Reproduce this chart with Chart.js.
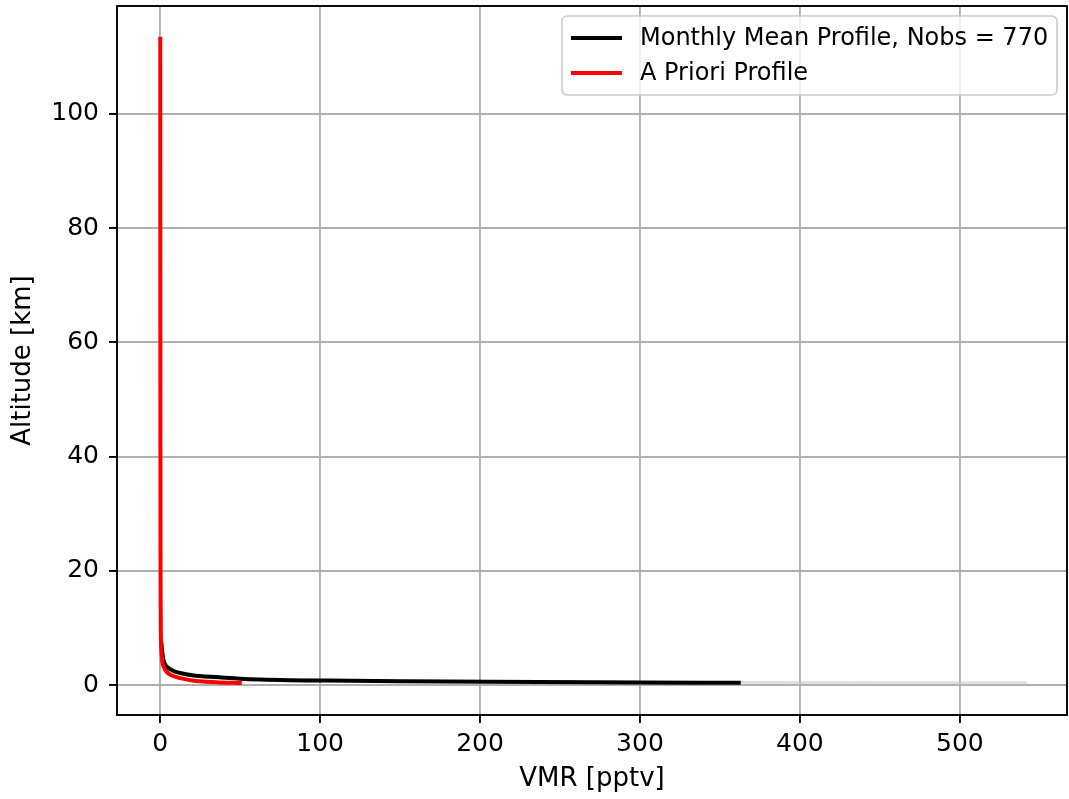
<!DOCTYPE html>
<html>
<head>
<meta charset="utf-8">
<script src="https://cdn.jsdelivr.net/npm/chart.js@4"></script>
<style>
  html, body { margin: 0; padding: 0; background: #fff; }
  #wrap { width: 1069px; height: 799px; }
</style>
</head>
<body>
<div id="wrap"><canvas id="profileChart" width="1069" height="799"></canvas></div>
<script>
// A priori profile (red)
const aprioriVmr = [51, 35, 20, 12.5, 7, 4, 2.5, 1.5, 1, 0.6, 0.4, 0.3, 0.2, 0.15, 0.1, 0.08, 0.06, 0.05];
const aprioriAlt = [0.35, 0.5, 0.8, 1.2, 1.7, 2.3, 3, 3.8, 5, 7, 10, 15, 25, 40, 60, 80, 100, 113.5];

// monthly mean profile (black), hidden under the red line above ~7 km
const meanVmr = [363, 300, 206, 150, 100, 81, 50, 37, 20, 12.5, 8, 5, 3, 2, 1.2, 0.7];
const meanAlt = [0.4, 0.45, 0.58, 0.68, 0.8, 0.85, 1.1, 1.35, 1.7, 2.1, 2.5, 3.0, 3.6, 4.5, 6, 7.5];

// upper edge of the std band (light grey)
const stdVmr = [542, 450, 363, 250, 130, 60, 30, 15, 6, 2];
const stdAlt = [0.38, 0.4, 0.43, 0.55, 0.75, 1.0, 1.3, 1.8, 2.8, 4.5];

const xTicks = [0, 100, 200, 300, 400, 500];
const yTicks = [0, 20, 40, 60, 80, 100];

const nobs = 770;
const labels = ['Monthly Mean Profile, Nobs = ' + nobs, 'A Priori Profile'];

const toPoints = (xs, ys) => xs.map((x, i) => ({ x: x, y: ys[i] }));

Chart.defaults.font.family = '"DejaVu Sans", sans-serif';
Chart.defaults.font.size = 25;
Chart.defaults.color = '#000';

// matplotlib-ish frame and legend
const framePlugin = {
    id: 'frame',
    afterDraw(chart) {
        const ctx = chart.ctx;
        const a = chart.chartArea;
        ctx.save();
        ctx.strokeStyle = '#000';
        ctx.lineWidth = 1.9;
        ctx.strokeRect(a.left, a.top, a.right - a.left, a.bottom - a.top);

        // legend box
        const bx = 562, by = 16, bw = 495, bh = 79;
        ctx.fillStyle = 'rgba(255,255,255,0.8)';
        ctx.strokeStyle = '#cccccc';
        ctx.lineWidth = 1.6;
        ctx.beginPath();
        ctx.roundRect(bx, by, bw, bh, 5);
        ctx.fill();
        ctx.stroke();

        const colors = ['#000000', '#ff0000'];
        ctx.font = '24px "DejaVu Sans", sans-serif';
        ctx.textBaseline = 'middle';
        labels.forEach((lab, i) => {
            const ly = 38 + i * 35;
            ctx.strokeStyle = colors[i];
            ctx.lineWidth = 4;
            ctx.beginPath();
            ctx.moveTo(571, ly);
            ctx.lineTo(622, ly);
            ctx.stroke();
            ctx.fillStyle = '#000';
            ctx.fillText(lab, 640, ly + 1);
        });
        ctx.restore();
    }
};

const ctx = document.getElementById('profileChart').getContext('2d');
const profileChart = new Chart(ctx, {
    type: 'scatter',
    data: {
        datasets: [
            {
                label: labels[1],
                data: toPoints(aprioriVmr, aprioriAlt),
                showLine: true,
                borderColor: '#ff0000',
                borderWidth: 4,
                pointRadius: 0,
                cubicInterpolationMode: 'monotone'
            },
            {
                label: labels[0],
                data: toPoints(meanVmr, meanAlt),
                showLine: true,
                borderColor: '#000000',
                borderWidth: 4,
                pointRadius: 0,
                cubicInterpolationMode: 'monotone'
            },
            {
                label: 'std',
                data: toPoints(stdVmr, stdAlt),
                showLine: true,
                borderColor: 'rgba(200,200,200,0.6)',
                borderWidth: 3,
                pointRadius: 0
            }
        ]
    },
    options: {
        responsive: false,
        animation: false,
        layout: { padding: { left: 0, right: 2, top: 6, bottom: 0 } },
        plugins: {
            legend: { display: false },
            tooltip: { enabled: false }
        },
        scales: {
            x: {
                type: 'linear',
                min: -27,
                max: 567,
                afterBuildTicks: (scale) => { scale.ticks = xTicks.map(v => ({ value: v })); },
                afterFit: (scale) => { scale.height = 84; scale.paddingLeft = 0; scale.paddingRight = 0; },
                grid: { color: '#b0b0b0', lineWidth: 1.9, tickColor: '#000', tickLength: 8, drawTicks: true },
                border: { display: false },
                ticks: { padding: 6, maxRotation: 0 },
                title: { display: true, text: 'VMR [pptv]', font: { size: 26 }, padding: { top: 0, bottom: 4 } }
            },
            y: {
                type: 'linear',
                min: -5.25,
                max: 118.9,
                afterBuildTicks: (scale) => { scale.ticks = yTicks.map(v => ({ value: v })); },
                afterFit: (scale) => { scale.width = 117; scale.paddingTop = 0; scale.paddingBottom = 0; },
                grid: { color: '#b0b0b0', lineWidth: 1.9, tickColor: '#000', tickLength: 8, drawTicks: true },
                border: { display: false },
                ticks: { padding: 10 },
                title: { display: true, text: 'Altitude [km]', font: { size: 26 }, padding: { top: 8, bottom: 0 } }
            }
        }
    },
    plugins: [framePlugin]
});
</script>
</body>
</html>
